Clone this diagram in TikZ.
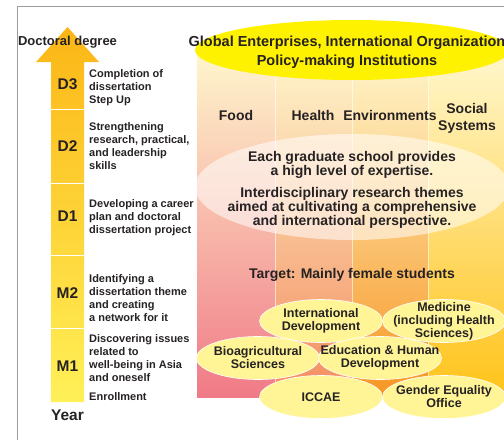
\documentclass[tikz,border=0pt]{standalone}
\usepackage{fontspec}
\setmainfont{Liberation Sans}
\usetikzlibrary{shapes.geometric}

\definecolor{txt}{RGB}{38,34,35}
\definecolor{frame}{RGB}{155,155,155}
\definecolor{arrowtop}{RGB}{252,182,22}
\definecolor{arrowbot}{RGB}{255,240,88}
\definecolor{topyellow}{RGB}{255,242,0}
\definecolor{colpale}{RGB}{255,247,205}
\definecolor{colA}{RGB}{240,122,135}
\definecolor{colB}{RGB}{243,140,95}
\definecolor{colC}{RGB}{247,150,35}
\definecolor{colD}{RGB}{255,195,25}
\definecolor{unitfill}{RGB}{255,245,150}

\begin{document}
\begin{tikzpicture}[x=1pt,y=-1pt]
        \useasboundingbox (0,0) rectangle (504,440);

        % frame
        \draw[frame, line width=0.8pt] (17,440) -- (17,6) -- (504,6);

        % year arrow
        \shade[top color=arrowtop, bottom color=arrowbot]
          (51,402) -- (51,62) -- (36,62) -- (67.5,27) -- (99,62) -- (84,62) -- (84,402) -- cycle;
        \foreach \y in {109,183,255,328}
          \draw[white, line width=0.8pt] (51,\y) -- (84,\y);

        \begin{scope}[every node/.style={font=\fontsize{15.5}{18}\selectfont\bfseries, text=txt}]
          \node (d3)   at (67.5,84)  {D3};
          \node (d2)   at (67.5,146) {D2};
          \node (d1)   at (67.5,216) {D1};
          \node (m2)   at (67.5,293) {M2};
          \node (m1)   at (67.5,366) {M1};
          \node (year) at (67.5,415) {Year};
        \end{scope}

        \node[font=\fontsize{13}{15}\selectfont\bfseries, text=txt] (doctor) at (67.5,42) {Doctoral degree};

        \begin{scope}[every node/.style={anchor=west, align=left, inner sep=0pt,
            font=\fontsize{11}{13}\selectfont\bfseries, text=txt}]
          \node (d3txt)  at (89,88)    {Completion of\\dissertation\\Step Up};
          \node (d2txt)  at (89,146.5) {Strengthening\\research, practical,\\and leadership\\skills};
          \node (d1txt)  at (89,218)   {Developing a career\\plan and doctoral\\dissertation project};
          \node (m2txt)  at (89,298.5) {Identifying a\\dissertation theme\\and creating\\a network for it};
          \node (m1txt)  at (89,358.5) {Discovering issues\\related to\\well-being in Asia\\and oneself};
          \node (enroll) at (89,397)   {Enrollment};
        \end{scope}

        % fields
        \shade[top color=colpale, bottom color=colA] (197,50) rectangle (275,397);
        \shade[top color=colpale, bottom color=colB] (275,50) rectangle (352,397);
        \shade[top color=colpale, bottom color=colC] (352,50) rectangle (428,397);
        \shade[top color=colpale, bottom color=colD] (428,50) rectangle (504,397);
        \foreach \x in {275,352,428}
          \draw[white, opacity=0.6, line width=0.6pt] (\x,50) -- (\x,397);

        \fill[topyellow] (352,50) ellipse [x radius=157, y radius=30];
        \node[align=center, font=\fontsize{14.5}{19}\selectfont\bfseries, text=txt] (global) at (347,52.5)
          {Global Enterprises, International Organization\\Policy-making Institutions};

        \begin{scope}[every node/.style={align=center, font=\fontsize{14}{17}\selectfont\bfseries, text=txt}]
          \node (food)   at (236,115) {Food};
          \node (health) at (313,115) {Health};
          \node (env)    at (390,115) {Environments};
          \node (social) at (467,118.5) {Social\\Systems};
        \end{scope}

        \fill[white, opacity=0.55] (352,187) ellipse [x radius=157, y radius=53];
        \node[align=center, font=\fontsize{14}{14}\selectfont\bfseries, text=txt] (expert) at (352,189.5)
          {Each graduate school provides\\a high level of expertise.\\[8pt]Interdisciplinary research themes\\aimed at cultivating a comprehensive\\and international perspective.};
        \node[font=\fontsize{14}{16}\selectfont\bfseries, text=txt] (target) at (352,275) {Target: Mainly female students};

        % graduate schools
        \begin{scope}[unit/.style={ellipse, draw=white, line width=0.6pt, fill=unitfill,
            minimum width=123pt, minimum height=43pt, inner sep=0pt},
            every label/.style={align=center, inner sep=0pt,
            font=\fontsize{12.5}{13}\selectfont\bfseries, text=txt}]
          \node[unit, label=center:{International\\Development}]            (intdev) at (321,321) {};
          \node[unit, label=center:{Medicine\\(including Health\\Sciences)}] (med)    at (444,321) {};
          \node[unit, label=center:{Bioagricultural\\Sciences}]             (bio)    at (258,358) {};
          \node[unit, label=center:{Education \& Human\\Development}]       (edu)    at (380,358) {};
          \node[unit, label=center:{ICCAE}]                                 (iccae)  at (321,397) {};
          \node[unit, label=center:{Gender Equality\\Office}]               (gender) at (444,397) {};
        \end{scope}

      \end{tikzpicture}
\end{document}
